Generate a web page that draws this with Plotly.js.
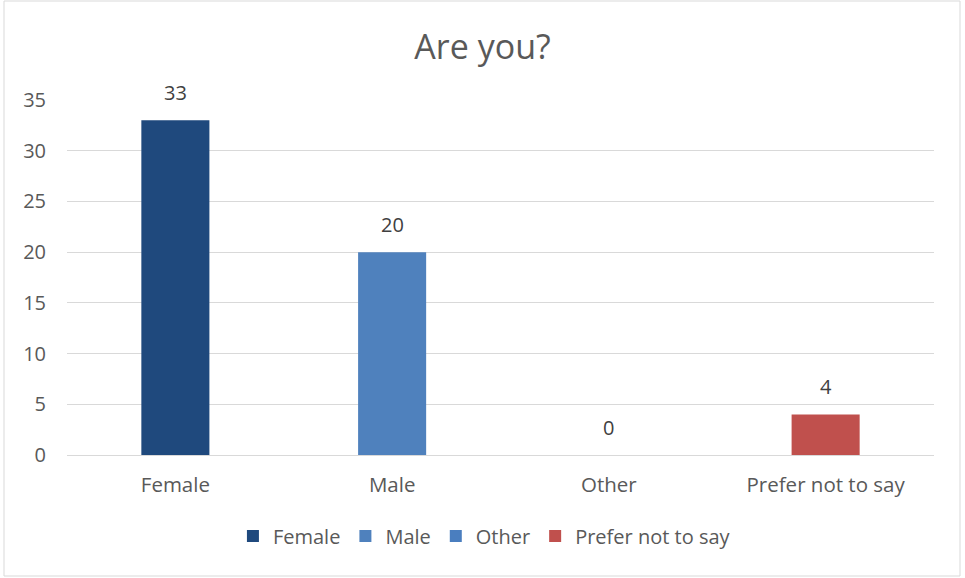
<!DOCTYPE html>
<html>
<head>
<meta charset="utf-8">
<script src="https://cdn.plot.ly/plotly-3.0.1.min.js"></script>
<style>
  html, body { margin: 0; padding: 0; background: #ffffff; }
  #chart { width: 965px; height: 578px; }
</style>
</head>
<body>
<div id="chart"></div>
<script>
// Survey answers to "Are you?"
const categories = ['Female', 'Male', 'Other', 'Prefer not to say'];
const counts = [33, 20, 0, 4];
const barColors = ['#1F497D', '#4F81BD', '#4A7EBF', '#C0504D'];
const yTicks = [0, 5, 10, 15, 20, 25, 30, 35];

const FONT = '"Open Sans", "Noto Sans", sans-serif';
const GREY = '#595959';

// One trace per answer so each gets its own legend entry and colour
const traces = categories.map((cat, i) => ({
  type: 'bar',
  name: cat,
  x: [cat],
  y: [counts[i]],
  width: 0.314,
  marker: { color: barColors[i] },
  hoverinfo: 'skip'
}));

// Value labels sitting above each bar
const valueLabels = categories.map((cat, i) => ({
  x: cat,
  y: counts[i],
  xref: 'x',
  yref: 'y',
  text: String(counts[i]),
  showarrow: false,
  yanchor: 'bottom',
  yshift: 12,
  font: { family: FONT, size: 20, color: '#404040' }
}));

const layout = {
  width: 965,
  height: 578,
  margin: { l: 67, r: 31, t: 100, b: 123 },
  paper_bgcolor: '#ffffff',
  plot_bgcolor: '#ffffff',
  barmode: 'overlay',
  font: { family: FONT, color: GREY },
  title: {
    text: 'Are you?',
    font: { family: FONT, size: 34, color: GREY },
    x: 0.5,
    xref: 'container',
    xanchor: 'center',
    y: 0.918,
    yref: 'container',
    yanchor: 'middle'
  },
  xaxis: {
    type: 'category',
    categoryorder: 'array',
    categoryarray: categories,
    range: [-0.5, categories.length - 0.5],
    showgrid: false,
    zeroline: false,
    showline: false,
    ticks: '',
    ticklabelstandoff: 15,
    tickfont: { family: FONT, size: 20.5, color: GREY },
    fixedrange: true
  },
  yaxis: {
    range: [0, 35],
    tickmode: 'array',
    tickvals: yTicks,
    ticktext: yTicks.map(String),
    showgrid: true,
    gridcolor: '#D9D9D9',
    gridwidth: 1,
    zeroline: true,
    zerolinecolor: '#D9D9D9',
    zerolinewidth: 1,
    showline: false,
    ticks: '',
    ticklabelstandoff: 20,
    tickfont: { family: FONT, size: 20, color: GREY },
    fixedrange: true
  },
  showlegend: true,
  legend: {
    orientation: 'h',
    xref: 'container',
    x: 0.502,
    xanchor: 'center',
    yref: 'container',
    y: 1 - 536 / 578,
    yanchor: 'middle',
    font: { family: FONT, size: 20, color: GREY },
    itemclick: false,
    itemdoubleclick: false,
    tracegroupgap: 0
  },
  annotations: valueLabels,
  shapes: [{
    type: 'rect',
    xref: 'paper',
    yref: 'paper',
    x0: (4 - 67) / 867,
    x1: (960 - 67) / 867,
    y0: (455 - 576) / 355,
    y1: (455 - 1) / 355,
    line: { color: '#D9D9D9', width: 1 },
    fillcolor: 'rgba(0,0,0,0)',
    layer: 'below'
  }]
};

Plotly.newPlot('chart', traces, layout, { displayModeBar: false, staticPlot: true });
</script>
</body>
</html>
